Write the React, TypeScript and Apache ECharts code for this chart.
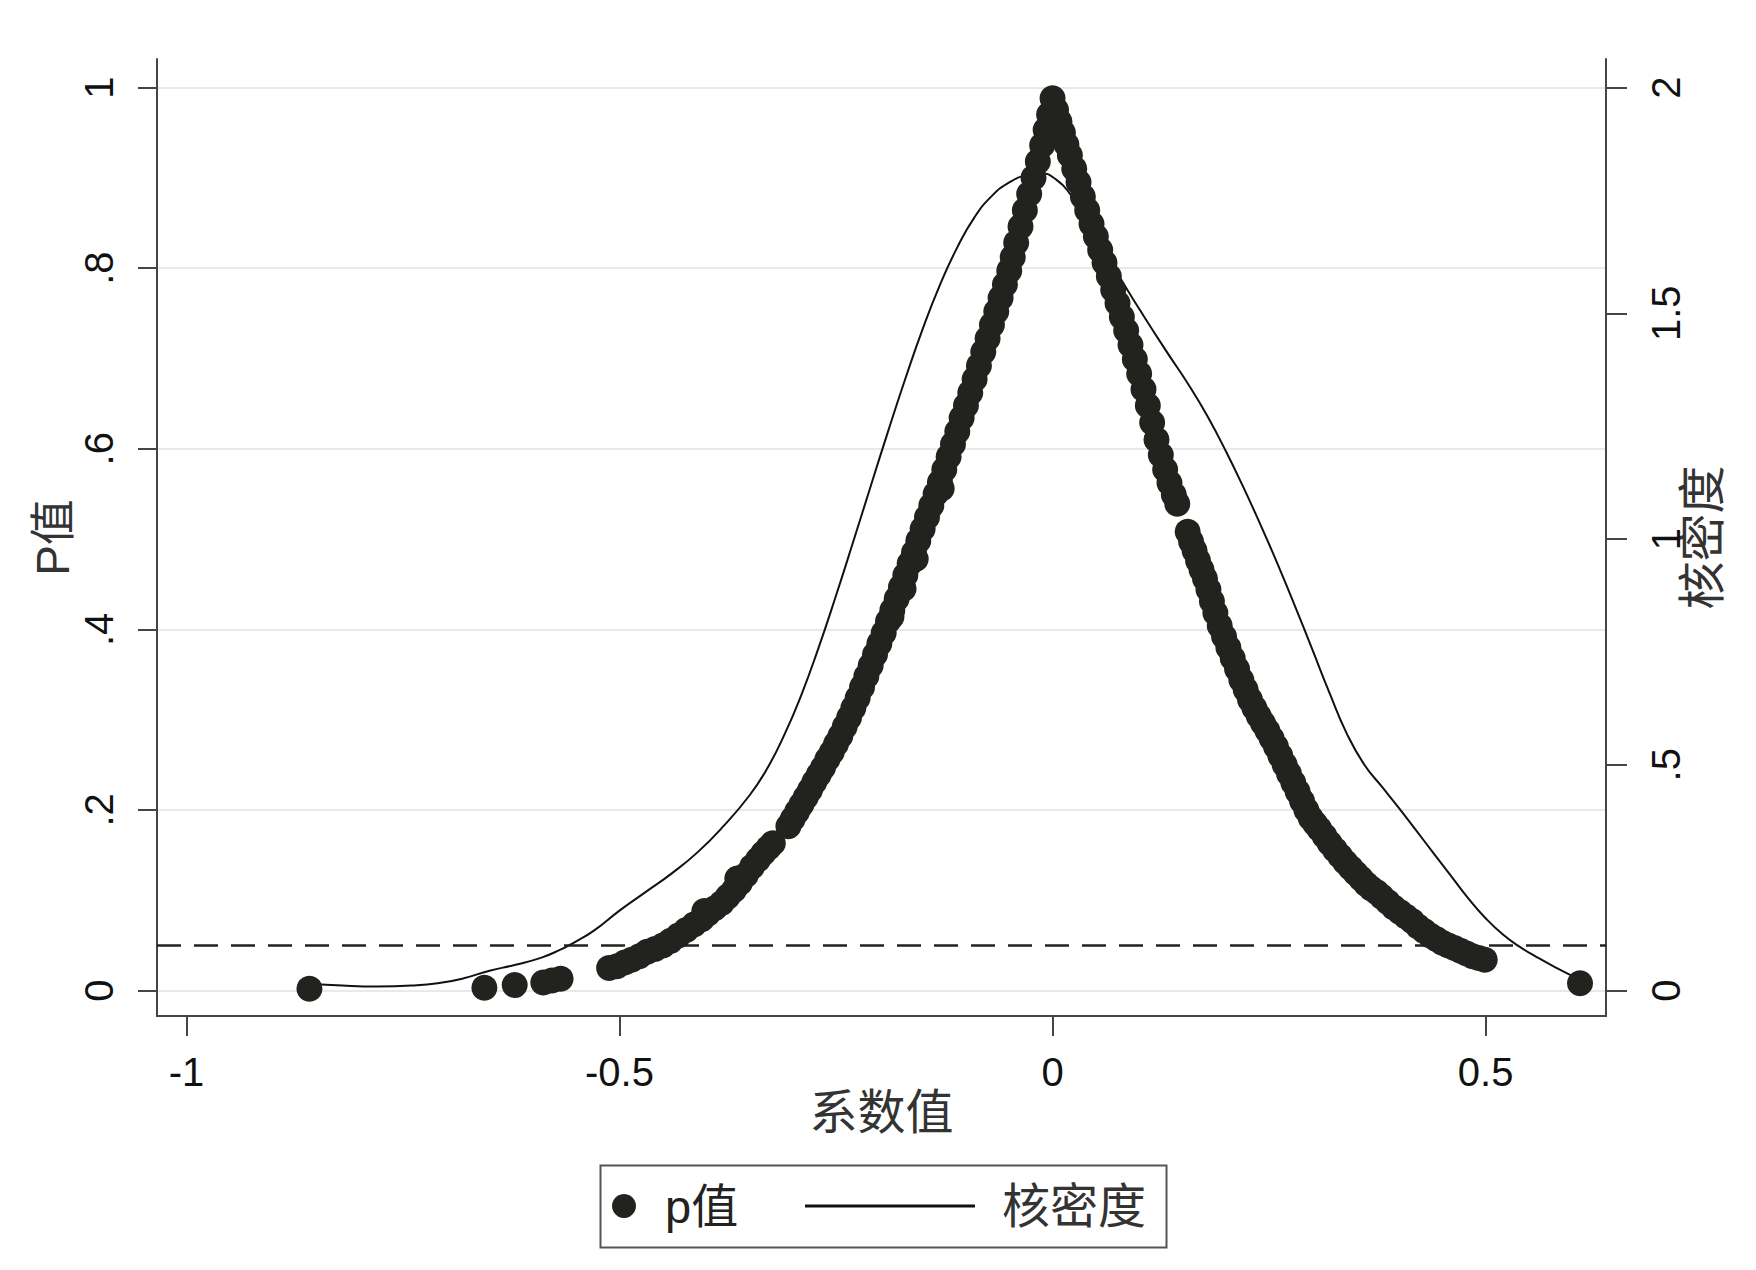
import React, { useEffect, useRef } from 'react';
import * as echarts from 'echarts';

// ---- tick values ----
const xTicks = [-1, -0.5, 0, 0.5];
const pTicks = [0, 0.2, 0.4, 0.6, 0.8, 1];
const densityTicks = [0, 0.5, 1, 1.5, 2];
const significanceLevel = 0.05;

// ---- p-value scatter (coefficient, p) ----
const leftTail: number[][] = [
  [-0.858, 0.002], [-0.656, 0.003], [-0.621, 0.006], [-0.588, 0.009], [-0.578, 0.011], [-0.568, 0.013],
];
const leftLow: number[][] = [
  [-0.512, 0.025], [-0.503, 0.027], [-0.494, 0.031], [-0.486, 0.034], [-0.477, 0.038], [-0.468, 0.043],
  [-0.459, 0.046], [-0.450, 0.050], [-0.441, 0.055], [-0.432, 0.061], [-0.423, 0.067], [-0.414, 0.073],
  [-0.405, 0.079], [-0.402, 0.088], [-0.398, 0.085], [-0.390, 0.091], [-0.382, 0.097], [-0.375, 0.104],
  [-0.368, 0.111], [-0.364, 0.124], [-0.361, 0.119], [-0.354, 0.128], [-0.347, 0.137], [-0.340, 0.145],
  [-0.334, 0.152], [-0.328, 0.158], [-0.323, 0.163],
];
const leftRise: number[][] = [
  [-0.305, 0.182], [-0.300, 0.190], [-0.295, 0.198], [-0.290, 0.206], [-0.285, 0.214], [-0.280, 0.222],
  [-0.275, 0.231], [-0.270, 0.239], [-0.265, 0.247], [-0.260, 0.256], [-0.255, 0.264], [-0.250, 0.273],
  [-0.245, 0.282], [-0.240, 0.292], [-0.235, 0.302], [-0.230, 0.313], [-0.225, 0.324], [-0.220, 0.336],
  [-0.215, 0.348], [-0.210, 0.360], [-0.205, 0.372], [-0.200, 0.384], [-0.195, 0.396], [-0.190, 0.409],
  [-0.186, 0.414], [-0.185, 0.421], [-0.180, 0.434], [-0.175, 0.447], [-0.172, 0.445], [-0.170, 0.460],
  [-0.165, 0.473], [-0.160, 0.485], [-0.158, 0.478], [-0.155, 0.498], [-0.150, 0.511], [-0.145, 0.524],
  [-0.140, 0.537], [-0.135, 0.550], [-0.130, 0.563], [-0.128, 0.556], [-0.125, 0.577], [-0.120, 0.591],
  [-0.115, 0.605], [-0.110, 0.619], [-0.105, 0.634], [-0.100, 0.648], [-0.095, 0.662], [-0.090, 0.677],
  [-0.085, 0.692], [-0.080, 0.707], [-0.075, 0.722], [-0.070, 0.737], [-0.065, 0.752], [-0.060, 0.767],
  [-0.055, 0.782], [-0.050, 0.797], [-0.046, 0.812], [-0.042, 0.828], [-0.037, 0.846], [-0.032, 0.864],
  [-0.027, 0.882], [-0.022, 0.900], [-0.017, 0.918], [-0.012, 0.936], [-0.008, 0.953], [-0.004, 0.970],
  [0.000, 0.988],
];
const rightFallUpper: number[][] = [
  [0.004, 0.975], [0.008, 0.962], [0.012, 0.950], [0.016, 0.937], [0.020, 0.925], [0.025, 0.910],
  [0.030, 0.895], [0.035, 0.879], [0.040, 0.864], [0.045, 0.849], [0.050, 0.835], [0.055, 0.820],
  [0.060, 0.806], [0.065, 0.791], [0.070, 0.776], [0.075, 0.761], [0.080, 0.746], [0.085, 0.731],
  [0.090, 0.715], [0.095, 0.699], [0.100, 0.683], [0.105, 0.666], [0.110, 0.648], [0.115, 0.629],
  [0.120, 0.610], [0.125, 0.593], [0.130, 0.577], [0.135, 0.562], [0.140, 0.549], [0.144, 0.539],
];
const rightFallLower: number[][] = [
  [0.156, 0.508], [0.160, 0.497], [0.164, 0.487], [0.168, 0.476], [0.172, 0.466], [0.176, 0.456],
  [0.180, 0.444], [0.184, 0.431], [0.188, 0.418], [0.193, 0.404], [0.198, 0.392], [0.203, 0.380],
  [0.208, 0.368], [0.213, 0.356], [0.218, 0.344], [0.223, 0.333], [0.228, 0.322], [0.233, 0.313],
  [0.238, 0.304], [0.243, 0.296], [0.248, 0.288], [0.253, 0.279], [0.258, 0.270], [0.263, 0.260],
  [0.268, 0.250], [0.273, 0.240], [0.278, 0.230], [0.283, 0.220], [0.288, 0.210], [0.293, 0.200],
  [0.298, 0.191], [0.303, 0.185], [0.308, 0.179], [0.314, 0.171], [0.320, 0.163], [0.326, 0.156],
  [0.332, 0.149], [0.338, 0.142], [0.344, 0.136], [0.350, 0.130], [0.356, 0.124], [0.362, 0.118],
  [0.368, 0.113], [0.374, 0.109], [0.380, 0.104], [0.387, 0.098], [0.394, 0.092], [0.401, 0.087],
  [0.408, 0.082], [0.415, 0.077], [0.422, 0.071], [0.429, 0.066], [0.436, 0.061], [0.443, 0.057],
  [0.450, 0.053], [0.457, 0.050], [0.464, 0.047], [0.471, 0.044], [0.478, 0.041], [0.485, 0.038],
  [0.492, 0.036], [0.499, 0.034],
];
const rightTail: number[][] = [[0.609, 0.008]];

// ---- kernel density curve ----
const densityCoef = [
  -0.858, -0.82, -0.78, -0.74, -0.71, -0.68, -0.65, -0.62, -0.59, -0.57, -0.55, -0.53, -0.50, -0.47,
  -0.44, -0.41, -0.38, -0.35, -0.33, -0.31, -0.29, -0.27, -0.25, -0.23, -0.21, -0.19, -0.17, -0.15,
  -0.13, -0.11, -0.09, -0.07, -0.05, -0.03, -0.013, 0.005, 0.02, 0.04, 0.06, 0.08, 0.10, 0.13, 0.16,
  0.18, 0.20, 0.22, 0.24, 0.26, 0.28, 0.30, 0.32, 0.34, 0.36, 0.38, 0.40, 0.42, 0.44, 0.46, 0.48,
  0.50, 0.52, 0.54, 0.56, 0.58, 0.609,
];
const densityValue = [
  0.015, 0.011, 0.009, 0.011, 0.016, 0.027, 0.044, 0.057, 0.073, 0.089, 0.109, 0.132, 0.177, 0.218,
  0.259, 0.306, 0.364, 0.432, 0.490, 0.565, 0.655, 0.760, 0.875, 0.995, 1.117, 1.238, 1.355, 1.465,
  1.563, 1.646, 1.713, 1.760, 1.790, 1.806, 1.810, 1.795, 1.765, 1.705, 1.638, 1.572, 1.510, 1.420,
  1.333, 1.268, 1.195, 1.116, 1.032, 0.944, 0.851, 0.755, 0.658, 0.568, 0.500, 0.452, 0.404, 0.354,
  0.304, 0.254, 0.204, 0.160, 0.124, 0.096, 0.073, 0.052, 0.024,
];

const X_MIN = -1.034;
const X_MAX = 0.639;
const Y_MIN = -0.0282;
const Y_MAX = 1.0316;

const LATIN = '"Liberation Sans", Arial, sans-serif';
const MIXED = '"Liberation Sans", "Noto Sans CJK SC", sans-serif';

const fmtFrac = (v: number) => {
  if (v === 0) return '0';
  const s = String(v);
  return s.startsWith('0.') ? s.slice(1) : s;
};

export default function App() {
  const ref = useRef<HTMLDivElement>(null);
  useEffect(() => {
    if (!ref.current) return;
    const chart = echarts.init(ref.current, undefined, { renderer: 'svg' });
    const pPoints = [
      ...leftTail, ...leftLow, ...leftRise, ...rightFallUpper, ...rightFallLower, ...rightTail,
    ];
    const densityPoints = densityCoef.map((x, i) => [x, densityValue[i]]);
    const axisColor = '#454545';
    const option: any = {
      animation: false,
      backgroundColor: '#ffffff',
      grid: { left: 157, right: 150, top: 59, bottom: 254, containLabel: false },
      xAxis: {
        type: 'value',
        min: X_MIN,
        max: X_MAX,
        axisLine: { show: true, onZero: false, lineStyle: { color: axisColor, width: 2 } },
        axisTick: { show: true, customValues: xTicks, length: 20, lineStyle: { color: axisColor, width: 2 } },
        axisLabel: {
          customValues: xTicks,
          margin: 36,
          fontSize: 40,
          color: '#111',
          fontFamily: LATIN,
          formatter: (v: number) => String(v),
        },
        splitLine: { show: false },
        name: '系数值',
        nameLocation: 'middle',
        nameGap: 72,
        nameMoveOverlap: false,
        nameTextStyle: { fontSize: 48, color: '#333', fontFamily: MIXED },
      },
      yAxis: [
        {
          type: 'value',
          position: 'left',
          min: Y_MIN,
          max: Y_MAX,
          axisLine: { show: true, onZero: false, lineStyle: { color: axisColor, width: 2 } },
          axisTick: { show: true, customValues: pTicks, length: 19, lineStyle: { color: axisColor, width: 2 } },
          axisLabel: {
            customValues: pTicks,
            rotate: 90,
            margin: 38,
            fontSize: 40,
            color: '#111',
            fontFamily: LATIN,
            formatter: fmtFrac,
          },
          splitLine: { show: true, lineStyle: { color: '#e3ecec', width: 2 } },
          name: 'P值',
          nameLocation: 'middle',
          nameRotate: 90,
          nameGap: 81,
          nameMoveOverlap: false,
          nameTextStyle: { fontSize: 46, color: '#333', fontFamily: MIXED },
        },
        {
          type: 'value',
          position: 'right',
          min: Y_MIN * 2,
          max: Y_MAX * 2,
          axisLine: { show: true, onZero: false, lineStyle: { color: axisColor, width: 2 } },
          axisTick: { show: true, customValues: densityTicks, length: 21, lineStyle: { color: axisColor, width: 2 } },
          axisLabel: {
            customValues: densityTicks,
            rotate: 90,
            margin: 40,
            fontSize: 40,
            color: '#111',
            fontFamily: LATIN,
            formatter: fmtFrac,
          },
          splitLine: { show: false },
          name: '核密度',
          nameLocation: 'middle',
          nameRotate: 90,
          nameGap: 72,
          nameMoveOverlap: false,
          nameTextStyle: { fontSize: 48, color: '#333', fontFamily: MIXED },
        },
      ],
      legend: [
        {
          data: [{ name: 'p值', icon: 'circle' }],
          left: 612,
          top: 1180,
          padding: 0,
          itemWidth: 24,
          itemHeight: 24,
          selectedMode: false,
          textStyle: { fontSize: 47, lineHeight: 52, color: '#222', fontFamily: MIXED, padding: [0, 0, 0, 24] },
        },
        {
          data: [{ name: '核密度', icon: 'rect', itemStyle: { color: '#111' } }],
          left: 805,
          top: 1180,
          padding: 0,
          itemWidth: 170,
          itemHeight: 3,
          selectedMode: false,
          textStyle: { fontSize: 48, lineHeight: 52, color: '#333', fontFamily: MIXED, padding: [0, 0, 0, 22] },
        },
      ],
      graphic: [
        {
          type: 'rect',
          left: 598,
          top: 1163,
          shape: { width: 566, height: 82 },
          style: { fill: 'none', stroke: '#555', lineWidth: 2 },
          silent: true,
        },
      ],
      series: [
        {
          name: '核密度',
          type: 'line',
          yAxisIndex: 1,
          data: densityPoints,
          symbol: 'none',
          showSymbol: false,
          smooth: 0.5,
          itemStyle: { color: '#111' },
          lineStyle: { color: '#111', width: 2 },
          z: 2,
        },
        {
          name: 'p值',
          type: 'scatter',
          yAxisIndex: 0,
          data: pPoints,
          symbol: 'circle',
          symbolSize: 26,
          itemStyle: { color: '#22221f', opacity: 1 },
          z: 3,
          markLine: {
            silent: true,
            symbol: ['none', 'none'],
            label: { show: false },
            lineStyle: { type: [24, 13], color: '#222', width: 2.5 },
            data: [{ yAxis: significanceLevel }],
          },
        },
      ],
    };
    chart.setOption(option);
    return () => chart.dispose();
  }, []);
  return (
    <div
      ref={ref}
      style={{ position: 'absolute', left: 0, top: 0, width: 1756, height: 1270, background: '#fff' }}
    />
  );
}
